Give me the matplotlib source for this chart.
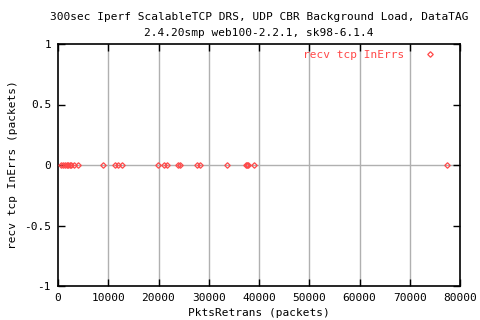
import matplotlib
matplotlib.use("Agg")
import matplotlib.pyplot as plt

# Data
pkts_retrans = [500, 900, 1300, 1700, 2000, 2300, 2600, 3200, 4000, 8950,
                11350, 11950, 12750, 19900, 21100, 21700, 23900, 24300,
                27650, 28250, 33650, 37400, 37600, 37800, 39000, 77400]
recv_tcp_inerrs = [0] * len(pkts_retrans)

x_ticks = [0, 10000, 20000, 30000, 40000, 50000, 60000, 70000, 80000]
y_ticks = [-1, -0.5, 0, 0.5, 1]
y_tick_labels = ["-1", "-0.5", "0", "0.5", "1"]

title = "300sec Iperf ScalableTCP DRS, UDP CBR Background Load, DataTAG\n2.4.20smp web100-2.2.1, sk98-6.1.4"
series_label = "recv tcp InErrs"
red = "#ff4848"

plt.rcParams['font.family'] = ['DejaVu Sans Mono']
plt.rcParams['font.size'] = 8

fig = plt.figure(figsize=(4.8, 3.2), dpi=100)
ax = fig.add_axes([58/480, 1-286/320, (460-58)/480, (286-44)/320])

ax.set_xlim(0, 80000)
ax.set_ylim(-1, 1)

for xt in x_ticks[1:-1]:
    ax.axvline(xt, color="#b0b0b0", lw=1.0, zorder=1)
ax.axhline(0, color="#b0b0b0", lw=1.0, zorder=1)

ax.plot(pkts_retrans, recv_tcp_inerrs, linestyle="none", marker="D",
        ms=2.8, mfc="none", mec=red, mew=0.9, label=series_label, zorder=3)

ax.set_xticks(x_ticks)
ax.set_xticklabels([str(v) for v in x_ticks])
ax.set_yticks(y_ticks)
ax.set_yticklabels(y_tick_labels)
ax.tick_params(direction="in", length=5, width=1, top=True, right=True,
               labelsize=8, pad=5)
for s in ax.spines.values():
    s.set_linewidth(1.2)

ax.set_xlabel("PktsRetrans (packets)", fontsize=8, labelpad=4)
ax.set_ylabel("recv tcp InErrs (packets)", fontsize=8, labelpad=4)
ax.set_title(title, fontsize=8, linespacing=1.7, pad=6)

leg = ax.legend(loc="upper right", frameon=False, markerfirst=False,
                handlelength=1.5, handletextpad=1.6, borderaxespad=0.5,
                borderpad=0.2, fontsize=8,
                bbox_to_anchor=(1 - 14/402, 1 + 2/242))
for t in leg.get_texts():
    t.set_color(red)

fig.savefig("out.png", dpi=100)
